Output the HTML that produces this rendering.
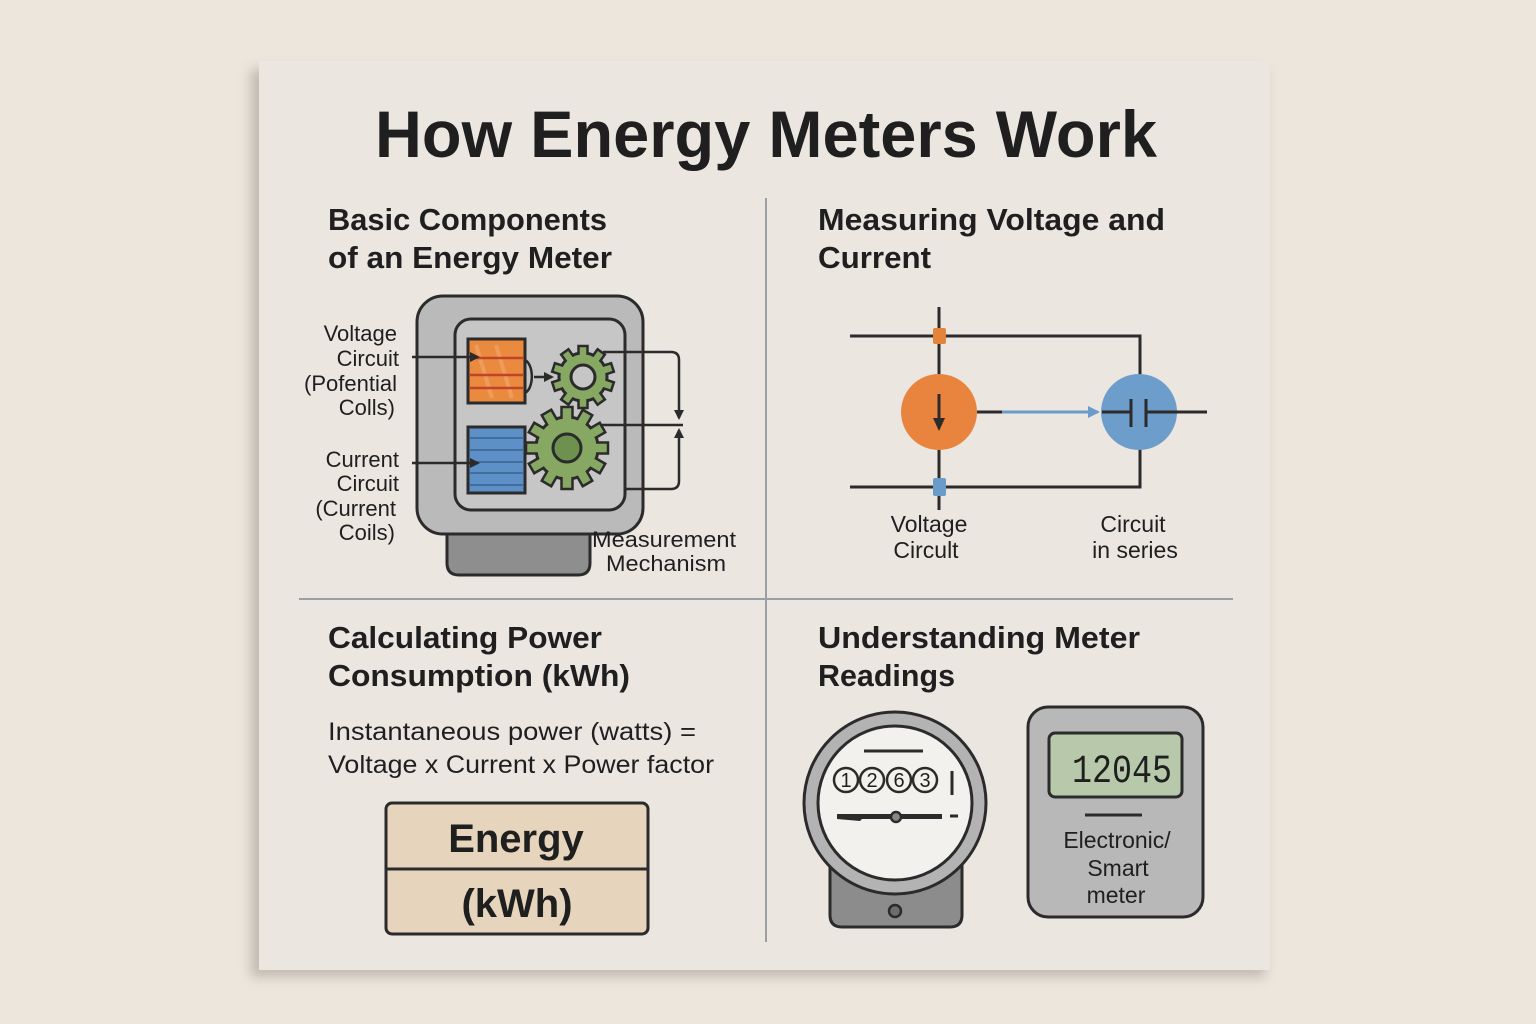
<!DOCTYPE html>
<html><head><meta charset="utf-8"><style>
html,body{margin:0;padding:0;background:#ece6dd;}
svg{display:block;}
text{font-family:"Liberation Sans",sans-serif;fill:#1f1f1f;}
</style></head><body>
<svg width="1536" height="1024" viewBox="0 0 1536 1024" xmlns="http://www.w3.org/2000/svg">
<defs>
<filter id="sh" x="-10%" y="-10%" width="120%" height="120%"><feGaussianBlur stdDeviation="6"/></filter>
<rect id="t1" x="-4.5" y="-31" width="9" height="12" fill="#86a862" stroke="#2b2b2b" stroke-width="2.5"/>
<rect id="t2" x="-5.5" y="-41" width="11" height="14" fill="#86a862" stroke="#2b2b2b" stroke-width="2.5"/>
<marker id="ah" markerWidth="10" markerHeight="10" refX="8" refY="5" orient="auto" markerUnits="userSpaceOnUse"><path d="M0,0 L10,5 L0,10 z" fill="#2b2b2b"/></marker>
<marker id="ahb" markerWidth="12" markerHeight="12" refX="10" refY="6" orient="auto" markerUnits="userSpaceOnUse"><path d="M0,0 L12,6 L0,12 z" fill="#6b9cc9"/></marker>
</defs>
<rect width="1536" height="1024" fill="#ece6dd"/>
<!-- panel shadow -->
<rect x="251" y="69" width="1014" height="908" fill="#8d8378" opacity="0.45" filter="url(#sh)"/>
<rect x="259" y="61" width="1011" height="909" fill="#ebe6e0"/>

<text x="766" y="157" text-anchor="middle" font-size="66" font-weight="bold" textLength="782" lengthAdjust="spacingAndGlyphs">How Energy Meters Work</text>

<!-- dividers -->
<line x1="766" y1="198" x2="766" y2="942" stroke="#9aa0a6" stroke-width="2"/>
<line x1="299" y1="599" x2="1233" y2="599" stroke="#9aa0a6" stroke-width="2"/>

<!-- headings -->
<g font-size="31" font-weight="bold">
<text x="328" y="230" textLength="279" lengthAdjust="spacingAndGlyphs">Basic Components</text>
<text x="328" y="268" textLength="284" lengthAdjust="spacingAndGlyphs">of an Energy Meter</text>
<text x="818" y="230" textLength="347" lengthAdjust="spacingAndGlyphs">Measuring Voltage and</text>
<text x="818" y="268" textLength="113" lengthAdjust="spacingAndGlyphs">Current</text>
<text x="328" y="648" textLength="274" lengthAdjust="spacingAndGlyphs">Calculating Power</text>
<text x="328" y="686" textLength="302" lengthAdjust="spacingAndGlyphs">Consumption (kWh)</text>
<text x="818" y="648" textLength="322" lengthAdjust="spacingAndGlyphs">Understanding Meter</text>
<text x="818" y="686" textLength="137" lengthAdjust="spacingAndGlyphs">Readings</text>
</g>

<!-- ===== Section 1: meter components ===== -->
<g stroke="#2b2b2b" stroke-width="3">
<path d="M447,520 L590,520 L590,563 Q590,575 578,575 L459,575 Q447,575 447,563 Z" fill="#8e8e8e"/>
<rect x="417" y="296" width="226" height="238" rx="26" fill="#bababa"/>
<rect x="455" y="319" width="170" height="191" rx="16" fill="#c6c6c6"/>
<rect x="468" y="339" width="57" height="64" fill="#ea8a3f"/>
<rect x="468" y="427" width="57" height="66" fill="#5c90c6"/>
</g>
<g stroke="#f4b27c" stroke-width="4" opacity="0.45">
<line x1="476" y1="345" x2="492" y2="398"/><line x1="496" y1="345" x2="512" y2="398"/>
</g>
<g stroke="#c0442a" stroke-width="2.5">
<line x1="470" y1="358" x2="523" y2="358"/><line x1="470" y1="375" x2="523" y2="375"/><line x1="470" y1="388" x2="523" y2="388"/>
</g>
<g stroke="#36628f" stroke-width="1.5">
<line x1="470" y1="438" x2="523" y2="438"/><line x1="470" y1="450" x2="523" y2="450"/><line x1="470" y1="462" x2="523" y2="462"/><line x1="470" y1="473" x2="523" y2="473"/><line x1="470" y1="485" x2="523" y2="485"/>
</g>
<!-- small gear -->
<g transform="translate(583,377)">
<circle r="24" fill="#86a862" stroke="#2b2b2b" stroke-width="3"/>
<use href="#t1"/><use href="#t1" transform="rotate(36)"/><use href="#t1" transform="rotate(72)"/><use href="#t1" transform="rotate(108)"/><use href="#t1" transform="rotate(144)"/><use href="#t1" transform="rotate(180)"/><use href="#t1" transform="rotate(216)"/><use href="#t1" transform="rotate(252)"/><use href="#t1" transform="rotate(288)"/><use href="#t1" transform="rotate(324)"/>
<circle r="22.5" fill="#86a862"/>
<circle r="12" fill="#c6c6c6" stroke="#2b2b2b" stroke-width="3"/>
</g>
<!-- big gear -->
<g transform="translate(567,448)">
<circle r="31" fill="#86a862" stroke="#2b2b2b" stroke-width="3"/>
<use href="#t2"/><use href="#t2" transform="rotate(30)"/><use href="#t2" transform="rotate(60)"/><use href="#t2" transform="rotate(90)"/><use href="#t2" transform="rotate(120)"/><use href="#t2" transform="rotate(150)"/><use href="#t2" transform="rotate(180)"/><use href="#t2" transform="rotate(210)"/><use href="#t2" transform="rotate(240)"/><use href="#t2" transform="rotate(270)"/><use href="#t2" transform="rotate(300)"/><use href="#t2" transform="rotate(330)"/>
<circle r="29.5" fill="#86a862"/>
<circle r="14" fill="#6f9150" stroke="#2b2b2b" stroke-width="3"/>
</g>
<g fill="none" stroke="#2b2b2b" stroke-width="2.5">
<path d="M525,360 A9 17 0 0 1 525,393"/>
<line x1="534" y1="377" x2="552" y2="377" marker-end="url(#ah)"/>
<path d="M603,352 L671,352 Q679,352 679,360 L679,418" marker-end="url(#ah)"/>
<line x1="600" y1="425" x2="683" y2="425"/>
<path d="M625,489 L671,489 Q679,489 679,481 L679,430" marker-end="url(#ah)"/>
<line x1="412" y1="357" x2="478" y2="357" marker-end="url(#ah)"/>
<line x1="412" y1="463" x2="478" y2="463" marker-end="url(#ah)"/>
</g>
<g font-size="22" text-anchor="end">
<text x="397" y="341">Voltage</text>
<text x="399" y="366">Circuit</text>
<text x="397" y="391">(Pofential</text>
<text x="395" y="415">Colls)</text>
<text x="399" y="467">Current</text>
<text x="399" y="491">Circuit</text>
<text x="396" y="516">(Current</text>
<text x="395" y="540">Coils)</text>
</g>
<g font-size="22">
<text x="592" y="547" textLength="144" lengthAdjust="spacingAndGlyphs">Measurement</text>
<text x="606" y="571" textLength="120" lengthAdjust="spacingAndGlyphs">Mechanism</text>
</g>

<!-- ===== Section 2: circuit ===== -->
<g fill="none" stroke="#2b2b2b" stroke-width="3">
<path d="M850,336 L1140,336 L1140,376"/>
<path d="M850,487 L1140,487 L1140,448"/>
<line x1="939" y1="307" x2="939" y2="376"/>
<line x1="939" y1="448" x2="939" y2="510"/>
</g>
<rect x="933" y="328" width="13" height="16" rx="2" fill="#e3843c"/>
<rect x="933" y="478" width="13" height="18" rx="2" fill="#6b9cc9"/>
<circle cx="939" cy="412" r="38" fill="#e9843e"/>
<line x1="939" y1="394" x2="939" y2="420" stroke="#2b2b2b" stroke-width="3"/>
<path d="M933,418 L945,418 L939,431 Z" fill="#2b2b2b"/>
<line x1="977" y1="412" x2="1002" y2="412" stroke="#2b2b2b" stroke-width="3"/>
<line x1="1002" y1="412" x2="1098" y2="412" stroke="#6b9cc9" stroke-width="3" marker-end="url(#ahb)"/>
<circle cx="1139" cy="412" r="38" fill="#6d9dca"/>
<g stroke="#2b2b2b" stroke-width="3">
<line x1="1102" y1="412" x2="1130" y2="412"/>
<line x1="1147" y1="412" x2="1207" y2="412"/>
<line x1="1131" y1="399" x2="1131" y2="427"/>
<line x1="1146" y1="399" x2="1146" y2="427"/>
</g>
<g font-size="23" text-anchor="middle">
<text x="929" y="532">Voltage</text>
<text x="926" y="558">Circult</text>
<text x="1133" y="532">Circuit</text>
<text x="1135" y="558">in series</text>
</g>

<!-- ===== Section 3: formula ===== -->
<g font-size="25">
<text x="328" y="740" textLength="368" lengthAdjust="spacingAndGlyphs">Instantaneous power (watts) =</text>
<text x="328" y="773" textLength="386" lengthAdjust="spacingAndGlyphs">Voltage x Current x Power factor</text>
</g>
<rect x="386" y="803" width="262" height="131" rx="6" fill="#e6d5bc" stroke="#2b2b2b" stroke-width="3"/>
<line x1="386" y1="869" x2="648" y2="869" stroke="#2b2b2b" stroke-width="3"/>
<g font-size="40" font-weight="bold" text-anchor="middle">
<text x="516" y="852">Energy</text>
<text x="517" y="917">(kWh)</text>
</g>

<!-- ===== Section 4: meters ===== -->
<path d="M830,862 L962,862 L962,915 Q962,927 950,927 L842,927 Q830,927 830,915 Z" fill="#8c8c8c" stroke="#2b2b2b" stroke-width="3"/>
<circle cx="895" cy="911" r="6" fill="#6d6d6d" stroke="#2b2b2b" stroke-width="2.5"/>
<circle cx="895" cy="803" r="91" fill="#b3b3b3" stroke="#2b2b2b" stroke-width="3"/>
<circle cx="895" cy="803" r="77" fill="#f3f1ed" stroke="#2b2b2b" stroke-width="3"/>
<line x1="864" y1="751" x2="923" y2="751" stroke="#2b2b2b" stroke-width="3"/>
<g fill="#f3f1ed" stroke="#2b2b2b" stroke-width="2.5">
<circle cx="846" cy="780" r="12"/><circle cx="872" cy="780" r="12"/><circle cx="899" cy="780" r="12"/><circle cx="925" cy="780" r="12"/>
</g>
<g font-size="20" text-anchor="middle">
<text x="846" y="787">1</text><text x="872" y="787">2</text><text x="899" y="787">6</text><text x="925" y="787">3</text>
</g>
<line x1="952" y1="771" x2="952" y2="795" stroke="#2b2b2b" stroke-width="3"/>
<path d="M837,814 L942,814 L942,819 L862,819 L860,821 L837,819 Z" fill="#2b2b2b"/>
<line x1="950" y1="816" x2="958" y2="816" stroke="#2b2b2b" stroke-width="3"/>
<circle cx="896" cy="817" r="5" fill="#888" stroke="#2b2b2b" stroke-width="2.5"/>

<rect x="1028" y="707" width="175" height="210" rx="20" fill="#b8b8b8" stroke="#2b2b2b" stroke-width="3"/>
<rect x="1049" y="733" width="133" height="64" rx="6" fill="#b8c9ab" stroke="#2b2b2b" stroke-width="3"/>
<text x="1072" y="782" font-size="40" textLength="100" lengthAdjust="spacingAndGlyphs" style="font-family:'Liberation Mono',monospace">12045</text>
<line x1="1085" y1="815" x2="1142" y2="815" stroke="#2b2b2b" stroke-width="3"/>
<g font-size="23" text-anchor="middle">
<text x="1117" y="848">Electronic/</text>
<text x="1118" y="876">Smart</text>
<text x="1116" y="903">meter</text>
</g>
</svg>
</body></html>
